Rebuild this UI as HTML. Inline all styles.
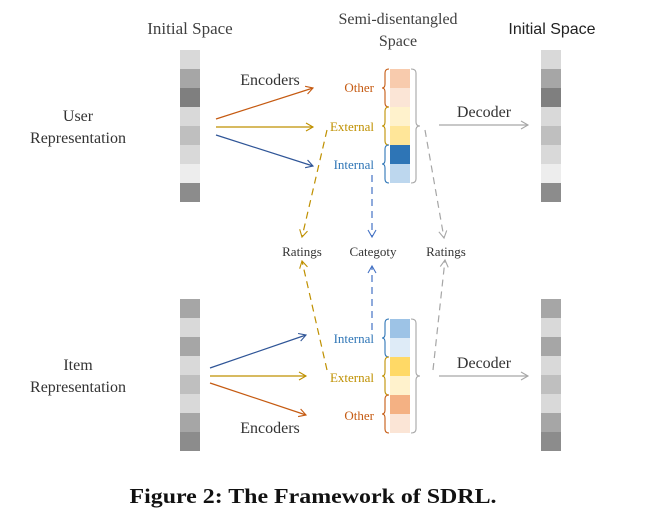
<!DOCTYPE html>
<html><head><meta charset="utf-8"><style>
html,body{margin:0;padding:0;background:#fff;width:655px;height:523px;overflow:hidden}
text{font-family:"Liberation Serif",serif}
</style></head><body>
<svg width="655" height="523" viewBox="0 0 655 523" xmlns="http://www.w3.org/2000/svg">
<defs>
<marker id="ao" markerWidth="10" markerHeight="10" refX="8" refY="5" orient="auto" markerUnits="userSpaceOnUse"><path d="M1,1 L8,5 L1,9" fill="none" stroke="#c55a11" stroke-width="1.1"/></marker>
<marker id="ag" markerWidth="10" markerHeight="10" refX="8" refY="5" orient="auto" markerUnits="userSpaceOnUse"><path d="M1,1 L8,5 L1,9" fill="none" stroke="#bf9000" stroke-width="1.1"/></marker>
<marker id="ab" markerWidth="10" markerHeight="10" refX="8" refY="5" orient="auto" markerUnits="userSpaceOnUse"><path d="M1,1 L8,5 L1,9" fill="none" stroke="#2f5597" stroke-width="1.1"/></marker>
<marker id="abl" markerWidth="10" markerHeight="10" refX="8" refY="5" orient="auto" markerUnits="userSpaceOnUse"><path d="M1,1 L8,5 L1,9" fill="none" stroke="#4472c4" stroke-width="1.1"/></marker>
<marker id="agr" markerWidth="10" markerHeight="10" refX="8" refY="5" orient="auto" markerUnits="userSpaceOnUse"><path d="M1,1 L8,5 L1,9" fill="none" stroke="#a6a6a6" stroke-width="1.1"/></marker>
</defs>

<text x="190" y="34" font-size="17" text-anchor="middle" fill="#404040">Initial Space</text>
<text x="398" y="24" font-size="16" text-anchor="middle" fill="#404040">Semi-disentangled</text>
<text x="398" y="46" font-size="16" text-anchor="middle" fill="#404040">Space</text>
<text x="552" y="34" font-size="16" text-anchor="middle" fill="#222" style="font-family:'Liberation Sans',sans-serif">Initial Space</text>

<text x="78" y="121" font-size="16" text-anchor="middle" fill="#333">User</text>
<text x="78" y="143" font-size="16" text-anchor="middle" fill="#333">Representation</text>
<text x="78" y="370" font-size="16" text-anchor="middle" fill="#333">Item</text>
<text x="78" y="392" font-size="16" text-anchor="middle" fill="#333">Representation</text>

<g>
<rect x="180" y="50" width="20" height="19" fill="#d9d9d9"/>
<rect x="180" y="69" width="20" height="19" fill="#a6a6a6"/>
<rect x="180" y="88" width="20" height="19" fill="#7f7f7f"/>
<rect x="180" y="107" width="20" height="19" fill="#d9d9d9"/>
<rect x="180" y="126" width="20" height="19" fill="#bfbfbf"/>
<rect x="180" y="145" width="20" height="19" fill="#d9d9d9"/>
<rect x="180" y="164" width="20" height="19" fill="#ededed"/>
<rect x="180" y="183" width="20" height="19" fill="#8c8c8c"/>
</g>
<g transform="translate(361,0)">
<rect x="180" y="50" width="20" height="19" fill="#d9d9d9"/>
<rect x="180" y="69" width="20" height="19" fill="#a6a6a6"/>
<rect x="180" y="88" width="20" height="19" fill="#7f7f7f"/>
<rect x="180" y="107" width="20" height="19" fill="#d9d9d9"/>
<rect x="180" y="126" width="20" height="19" fill="#bfbfbf"/>
<rect x="180" y="145" width="20" height="19" fill="#d9d9d9"/>
<rect x="180" y="164" width="20" height="19" fill="#ededed"/>
<rect x="180" y="183" width="20" height="19" fill="#8c8c8c"/>
</g>
<g>
<rect x="180" y="299" width="20" height="19" fill="#a6a6a6"/>
<rect x="180" y="318" width="20" height="19" fill="#d9d9d9"/>
<rect x="180" y="337" width="20" height="19" fill="#a6a6a6"/>
<rect x="180" y="356" width="20" height="19" fill="#d9d9d9"/>
<rect x="180" y="375" width="20" height="19" fill="#bfbfbf"/>
<rect x="180" y="394" width="20" height="19" fill="#d9d9d9"/>
<rect x="180" y="413" width="20" height="19" fill="#a6a6a6"/>
<rect x="180" y="432" width="20" height="19" fill="#8c8c8c"/>
</g>
<g transform="translate(361,0)">
<rect x="180" y="299" width="20" height="19" fill="#a6a6a6"/>
<rect x="180" y="318" width="20" height="19" fill="#d9d9d9"/>
<rect x="180" y="337" width="20" height="19" fill="#a6a6a6"/>
<rect x="180" y="356" width="20" height="19" fill="#d9d9d9"/>
<rect x="180" y="375" width="20" height="19" fill="#bfbfbf"/>
<rect x="180" y="394" width="20" height="19" fill="#d9d9d9"/>
<rect x="180" y="413" width="20" height="19" fill="#a6a6a6"/>
<rect x="180" y="432" width="20" height="19" fill="#8c8c8c"/>
</g>

<rect x="390" y="69" width="20" height="19" fill="#f8cbad"/>
<rect x="390" y="88" width="20" height="19" fill="#fbe5d6"/>
<rect x="390" y="107" width="20" height="19" fill="#fff2cc"/>
<rect x="390" y="126" width="20" height="19" fill="#ffe699"/>
<rect x="390" y="145" width="20" height="19" fill="#2e75b6"/>
<rect x="390" y="164" width="20" height="19" fill="#bdd7ee"/>

<rect x="390" y="319" width="20" height="19" fill="#9dc3e6"/>
<rect x="390" y="338" width="20" height="19" fill="#deebf7"/>
<rect x="390" y="357" width="20" height="19" fill="#ffd966"/>
<rect x="390" y="376" width="20" height="19" fill="#fff2cc"/>
<rect x="390" y="395" width="20" height="19" fill="#f4b183"/>
<rect x="390" y="414" width="20" height="19" fill="#fbe5d6"/>

<g fill="none" stroke-width="1.1">
<path d="M389,69 q-4,0 -4,4 v11 q0,4 -3,4 q3,0 3,4 v11 q0,4 4,4" stroke="#c55a11"/>
<path d="M389,107 q-4,0 -4,4 v11 q0,4 -3,4 q3,0 3,4 v11 q0,4 4,4" stroke="#bf9000"/>
<path d="M389,145 q-4,0 -4,4 v11 q0,4 -3,4 q3,0 3,4 v11 q0,4 4,4" stroke="#2e75b6"/>
<path d="M389,319 q-4,0 -4,4 v11 q0,4 -3,4 q3,0 3,4 v11 q0,4 4,4" stroke="#2e75b6"/>
<path d="M389,357 q-4,0 -4,4 v11 q0,4 -3,4 q3,0 3,4 v11 q0,4 4,4" stroke="#bf9000"/>
<path d="M389,395 q-4,0 -4,4 v11 q0,4 -3,4 q3,0 3,4 v11 q0,4 4,4" stroke="#c55a11"/>
<path d="M411,69 q5,0 5,4 v49 q0,4 4,4 q-4,0 -4,4 v49 q0,4 -5,4" stroke="#a6a6a6"/>
<path d="M411,319 q5,0 5,4 v49 q0,4 4,4 q-4,0 -4,4 v49 q0,4 -5,4" stroke="#a6a6a6"/>
</g>

<g font-size="13" text-anchor="end">
<text x="374" y="92" fill="#c55a11">Other</text>
<text x="374" y="131" fill="#bf9000">External</text>
<text x="374" y="169" fill="#2e75b6">Internal</text>
<text x="374" y="343" fill="#2e75b6">Internal</text>
<text x="374" y="382" fill="#bf9000">External</text>
<text x="374" y="420" fill="#c55a11">Other</text>
</g>

<text x="270" y="85" font-size="16" text-anchor="middle" fill="#333">Encoders</text>
<text x="270" y="433" font-size="16" text-anchor="middle" fill="#333">Encoders</text>
<text x="484" y="117" font-size="16" text-anchor="middle" fill="#333">Decoder</text>
<text x="484" y="368" font-size="16" text-anchor="middle" fill="#333">Decoder</text>

<g stroke-width="1.2" fill="none">
<line x1="216" y1="119" x2="313" y2="88" stroke="#c55a11" marker-end="url(#ao)"/>
<line x1="216" y1="127" x2="313" y2="127" stroke="#bf9000" marker-end="url(#ag)"/>
<line x1="216" y1="135" x2="313" y2="166" stroke="#2f5597" marker-end="url(#ab)"/>
<line x1="210" y1="368" x2="306" y2="335" stroke="#2f5597" marker-end="url(#ab)"/>
<line x1="210" y1="376" x2="306" y2="376" stroke="#bf9000" marker-end="url(#ag)"/>
<line x1="210" y1="383" x2="306" y2="415" stroke="#c55a11" marker-end="url(#ao)"/>
<line x1="439" y1="125" x2="528" y2="125" stroke="#a6a6a6" marker-end="url(#agr)"/>
<line x1="439" y1="376" x2="528" y2="376" stroke="#a6a6a6" marker-end="url(#agr)"/>
</g>

<g stroke-width="1.2" fill="none" stroke-dasharray="7,5">
<line x1="327" y1="130" x2="302" y2="237" stroke="#bf9000" marker-end="url(#ag)"/>
<line x1="327" y1="370" x2="302" y2="261" stroke="#bf9000" marker-end="url(#ag)"/>
<line x1="372" y1="175" x2="372" y2="237" stroke="#4472c4" marker-end="url(#abl)"/>
<line x1="372" y1="330" x2="372" y2="266" stroke="#4472c4" marker-end="url(#abl)"/>
<line x1="425" y1="130" x2="444" y2="238" stroke="#a6a6a6" marker-end="url(#agr)"/>
<line x1="433" y1="370" x2="445" y2="260" stroke="#a6a6a6" marker-end="url(#agr)"/>
</g>

<g font-size="13" text-anchor="middle" fill="#333">
<text x="302" y="256">Ratings</text>
<text x="373" y="256">Categoty</text>
<text x="446" y="256">Ratings</text>
</g>

<text x="313" y="503" font-size="21" font-weight="bold" text-anchor="middle" textLength="367" lengthAdjust="spacingAndGlyphs" fill="#111">Figure 2: The Framework of SDRL.</text>
</svg>
</body></html>
